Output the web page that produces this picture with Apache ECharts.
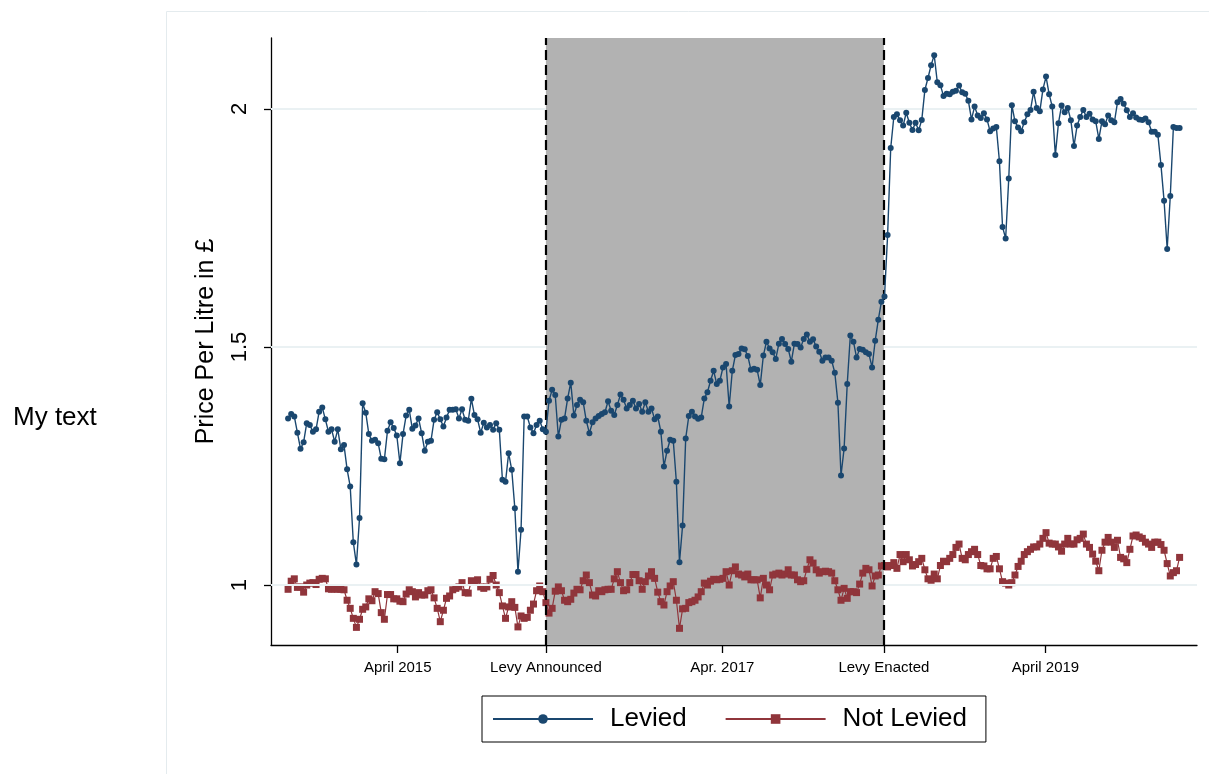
<!DOCTYPE html>
<html><head><meta charset="utf-8">
<script src="https://cdn.jsdelivr.net/npm/echarts@6/dist/echarts.min.js"></script>
<style>html,body{margin:0;padding:0;background:#fff}#c{width:1209px;height:774px}</style>
</head><body><div id="c"></div>
<script>
// Weekly average price per litre (index = week number)
const levied = [
1.350,1.359,1.354,1.320,1.286,1.300,1.340,1.336,1.322,1.327,
1.364,1.373,1.348,1.322,1.327,1.301,1.327,1.285,1.294,1.243,
1.207,1.090,1.043,1.141,1.382,1.362,1.317,1.303,1.305,1.298,
1.265,1.264,1.324,1.342,1.330,1.314,1.256,1.317,1.356,1.368,
1.328,1.335,1.350,1.319,1.282,1.301,1.303,1.347,1.363,1.348,
1.333,1.352,1.368,1.368,1.369,1.350,1.369,1.347,1.345,1.391,
1.357,1.348,1.320,1.341,1.331,1.336,1.326,1.340,1.326,1.221,
1.217,1.277,1.242,1.161,1.028,1.116,1.354,1.354,1.331,1.319,
1.336,1.345,1.327,1.322,1.387,1.410,1.399,1.312,1.347,1.350,
1.392,1.425,1.356,1.378,1.389,1.384,1.345,1.319,1.342,1.350,
1.355,1.359,1.363,1.386,1.366,1.357,1.378,1.400,1.389,1.371,
1.378,1.387,1.371,1.380,1.364,1.384,1.364,1.371,1.348,1.354,
1.322,1.249,1.282,1.305,1.303,1.217,1.048,1.125,1.308,1.355,
1.364,1.354,1.349,1.352,1.392,1.405,1.429,1.450,1.422,1.429,
1.457,1.464,1.375,1.450,1.483,1.485,1.497,1.495,1.481,1.452,
1.454,1.452,1.420,1.482,1.511,1.497,1.489,1.475,1.507,1.517,
1.506,1.496,1.469,1.507,1.506,1.499,1.517,1.526,1.511,1.516,
1.501,1.490,1.471,1.478,1.478,1.471,1.446,1.383,1.230,1.287,
1.422,1.524,1.511,1.478,1.496,1.494,1.489,1.485,1.457,1.513,
1.557,1.595,1.606,1.735,1.918,1.983,1.989,1.976,1.965,1.992,
1.971,1.956,1.971,1.955,1.977,2.040,2.065,2.092,2.113,2.056,
2.050,2.027,2.032,2.031,2.036,2.038,2.049,2.035,2.032,2.017,
1.978,2.005,1.986,1.981,1.991,1.978,1.953,1.959,1.962,1.890,
1.752,1.728,1.854,2.008,1.974,1.961,1.953,1.972,1.989,1.998,
2.036,2.002,1.995,2.041,2.068,2.031,2.005,1.903,1.970,2.007,
1.993,2.002,1.976,1.922,1.965,1.983,1.998,1.983,1.990,1.978,
1.974,1.937,1.974,1.968,1.986,1.976,1.972,2.014,2.021,2.011,
1.997,1.983,1.991,1.982,1.978,1.977,1.980,1.972,1.952,1.952,
1.946,1.882,1.807,1.706,1.817,1.962,1.960,1.960
];
const notLevied = [
0.991,1.008,1.013,0.995,0.996,0.985,1.000,1.004,1.005,1.001,
1.012,1.014,1.013,0.992,0.991,0.992,0.991,0.991,0.990,0.968,
0.951,0.930,0.911,0.928,0.949,0.954,0.971,0.967,0.986,0.982,
0.942,0.928,0.980,0.980,0.971,0.971,0.966,0.965,0.981,0.990,
0.986,0.975,0.984,0.979,0.979,0.988,0.990,0.973,0.951,0.923,
0.947,0.972,0.977,0.990,0.993,0.996,1.005,0.984,0.983,1.009,
1.007,1.011,0.996,0.993,0.996,1.012,1.020,1.000,0.984,0.956,
0.930,0.954,0.965,0.953,0.912,0.935,0.930,0.932,0.947,0.960,
0.988,0.998,0.986,0.963,0.941,0.951,0.987,0.996,0.988,0.968,
0.965,0.970,0.983,0.991,0.990,1.009,1.021,1.005,0.979,0.977,
0.988,0.986,0.990,0.991,0.991,1.013,1.028,1.005,0.988,0.990,
1.005,1.022,1.022,1.009,0.991,1.007,1.019,1.028,1.014,0.985,
0.965,0.958,0.986,0.998,1.007,0.968,0.909,0.950,0.951,0.963,
0.965,0.968,0.975,0.986,1.004,1.000,1.008,1.012,1.011,1.012,
1.014,1.028,1.000,1.030,1.038,1.023,1.021,1.017,1.023,1.011,
1.011,1.011,0.973,1.014,1.000,0.990,1.021,1.023,1.025,1.021,
1.023,1.032,1.021,1.021,1.011,1.007,1.009,1.033,1.053,1.046,
1.032,1.025,1.028,1.029,1.028,1.025,1.009,0.990,0.968,0.993,
0.972,0.986,0.986,0.984,1.002,1.025,1.035,1.032,0.998,1.019,
1.021,1.040,1.041,1.038,1.041,1.047,1.035,1.064,1.049,1.064,
1.053,1.040,1.043,1.049,1.056,1.032,1.013,1.010,1.023,1.013,
1.041,1.050,1.049,1.056,1.064,1.079,1.086,1.056,1.053,1.064,
1.070,1.075,1.064,1.041,1.040,1.034,1.034,1.056,1.060,1.034,
1.007,1.004,1.000,1.005,1.021,1.039,1.050,1.064,1.070,1.075,
1.080,1.080,1.086,1.098,1.110,1.088,1.086,1.086,1.080,1.071,
1.086,1.098,1.086,1.086,1.095,1.098,1.107,1.086,1.079,1.065,
1.050,1.030,1.073,1.090,1.100,1.090,1.079,1.094,1.058,1.055,
1.047,1.075,1.103,1.105,1.101,1.098,1.090,1.086,1.079,1.090,
1.090,1.085,1.073,1.045,1.019,1.026,1.030,1.058
];
const tickWeeks = [35.3, 83.0, 139.8, 191.8, 243.8];
const tickLabels = ["April 2015", "Levy Announced", "Apr. 2017", "Levy Enacted", "April 2019"];
const levyAnnouncedWeek = 83.0;
const levyEnactedWeek = 191.8;
const yTicks = [1, 1.5, 2];
const seriesNames = ["Levied", "Not Levied"];
const xMin = -5.5, xMax = 292.6;

const FONT = "Liberation Sans, Arial, Helvetica, sans-serif";
const chart = echarts.init(document.getElementById('c'), null, {renderer: 'canvas'});
const toPairs = arr => arr.map((v, i) => [i, v]);

// gridline segments outside the shaded levy window
const gridSegments = [];
yTicks.forEach(t => {
  gridSegments.push([{coord: [xMin, t]}, {coord: [levyAnnouncedWeek, t]}]);
  gridSegments.push([{coord: [levyEnactedWeek, t]}, {coord: [xMax, t]}]);
});

chart.setOption({
  animation: false,
  backgroundColor: '#ffffff',
  textStyle: {fontFamily: FONT},
  grid: {left: 271, right: 12, top: 38, bottom: 129, containLabel: false},
  graphic: [
    {type: 'rect', silent: true, z: -10,
     shape: {x: 166.5, y: 11.5, width: 1100, height: 900},
     style: {fill: 'none', stroke: '#e4ebee', lineWidth: 1}},
    {type: 'text', left: 13, top: 405,
     style: {text: 'My text', fontSize: 26, fontFamily: FONT, fill: '#000'}}
  ],
  legend: {
    data: seriesNames,
    left: 482, top: 696,
    orient: 'horizontal',
    itemWidth: 100, itemHeight: 12, itemGap: 38,
    padding: [10, 19, 10, 10],
    borderColor: '#000', borderWidth: 1,
    textStyle: {fontSize: 26, color: '#000', fontFamily: FONT, padding: [0, 0, 0, 12]}
  },
  xAxis: {
    type: 'value', min: xMin, max: xMax,
    axisLine: {show: true, onZero: false, lineStyle: {color: '#000', width: 1.3}},
    axisTick: {show: true, customValues: tickWeeks, length: 8, lineStyle: {color: '#000', width: 1.3}},
    axisLabel: {
      customValues: tickWeeks, margin: 15, fontSize: 15, color: '#000', fontFamily: FONT,
      formatter: v => { const k = tickWeeks.findIndex(t => Math.abs(t - v) < 0.01); return k >= 0 ? tickLabels[k] : ''; }
    },
    splitLine: {show: false}
  },
  yAxis: {
    type: 'value', min: 0.874, max: 2.149,
    name: 'Price Per Litre in £', nameLocation: 'middle', nameRotate: 90, nameGap: 52,
    nameTextStyle: {fontSize: 25, color: '#000', fontFamily: FONT},
    axisLine: {show: true, onZero: false, lineStyle: {color: '#000', width: 1.3}},
    axisTick: {show: true, customValues: yTicks, length: 7, lineStyle: {color: '#000', width: 1.3}},
    axisLabel: {customValues: yTicks, rotate: 90, margin: 20, fontSize: 22, color: '#000', fontFamily: FONT,
      formatter: v => String(v)},
    splitLine: {show: false}
  },
  series: [
    {type: 'line', name: '_grid', data: [], z: 1, silent: true,
     markLine: {silent: true, symbol: 'none', label: {show: false},
       lineStyle: {color: '#eaf1f3', width: 2, type: 'solid'},
       data: gridSegments}},
    {type: 'line', name: '_shade', data: [], z: 2, silent: true,
     markArea: {silent: true, itemStyle: {color: '#b2b2b2', opacity: 1},
       data: [[{xAxis: levyAnnouncedWeek}, {xAxis: levyEnactedWeek}]]}},
    {type: 'line', name: '_levy', data: [], z: 3, silent: true,
     markLine: {silent: true, symbol: 'none', label: {show: false},
       lineStyle: {color: '#000', width: 2.2, type: [10, 5]},
       data: [{xAxis: levyAnnouncedWeek}, {xAxis: levyEnactedWeek}]}},
    {type: 'line', name: seriesNames[0], data: toPairs(levied), z: 5,
     symbol: 'circle', symbolSize: 6, showAllSymbol: true,
     itemStyle: {color: '#1a476f'}, lineStyle: {color: '#1a476f', width: 1.4}},
    {type: 'line', name: seriesNames[1], data: toPairs(notLevied), z: 4,
     symbol: 'rect', symbolSize: 7, showAllSymbol: true,
     itemStyle: {color: '#90353b'}, lineStyle: {color: '#90353b', width: 1.2}}
  ]
});
</script></body></html>
